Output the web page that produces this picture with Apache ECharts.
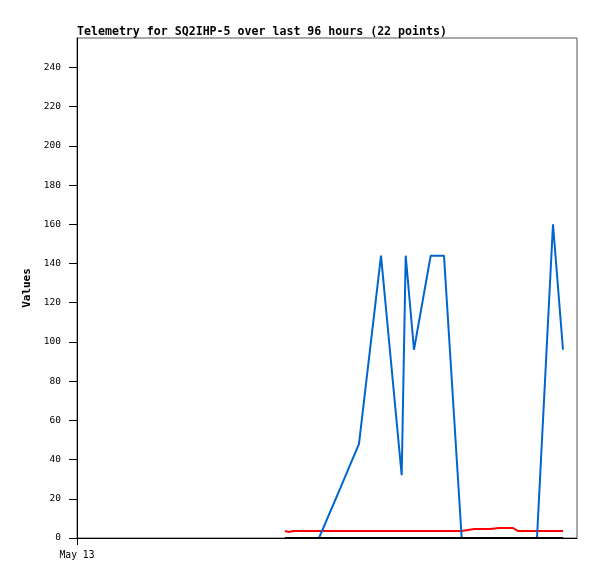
<!DOCTYPE html>
<html>
<head>
<meta charset="utf-8">
<script src="https://cdn.jsdelivr.net/npm/echarts@6/dist/echarts.min.js"></script>
<style>
html,body{margin:0;padding:0;background:#fff;}
#c{width:597px;height:579px;}
</style>
</head>
<body>
<div id="c"></div>
<script>
// hours since May 13 00:00
var hours = [39.94, 40.70, 41.47, 43.8, 46.46, 50.5, 54.14, 58.37, 62.34, 63.11, 64.70, 67.91, 70.46, 73.86, 76.28, 79.3, 81.02, 83.71, 84.61, 88.32, 91.39, 93.31];
var blueVals = [0, 0, 0, 0, 0, 25, 48, 144, 32, 144, 96, 144, 144, 0, 0, 0, 0, 0, 0, 0, 160, 96];
var redVals = [3.6, 3.1, 3.6, 3.6, 3.6, 3.6, 3.6, 3.6, 3.6, 3.6, 3.6, 3.6, 3.6, 3.6, 4.6, 4.6, 5.1, 5.1, 3.6, 3.6, 3.6, 3.6];
var blackVals = [0, 0, 0, 0, 0, 0, 0, 0, 0, 0, 0, 0, 0, 0, 0, 0, 0, 0, 0, 0, 0, 0];
var xLabelHours = [0];
var xLabelTexts = ['May 13'];
var title = 'Telemetry for SQ2IHP-5 over last 96 hours (22 points)';

function pairs(vals){ return hours.map(function(h,i){ return [h, vals[i]]; }); }

var chart = echarts.init(document.getElementById('c'), null, {renderer:'canvas'});
var mono = 'DejaVu Sans Mono';
chart.setOption({
  animation: false,
  backgroundColor: '#fff',
  title: {
    text: title, left: 72, top: 21,
    textStyle: {fontFamily: mono, fontSize: 11.6, fontWeight: 'bold', color: '#000'}
  },
  grid: {left: 77, right: 20, top: 38, bottom: 41, show: true, borderColor: '#555', borderWidth: 1, backgroundColor: 'transparent'},
  xAxis: {
    type: 'value', min: 0, max: 96,
    axisLine: {show: true, onZero: false, lineStyle: {color: '#000', width: 1}},
    axisTick: {show: true, length: 7, customValues: xLabelHours, lineStyle: {color: '#000'}},
    axisLabel: {
      customValues: xLabelHours, margin: 12,
      fontFamily: mono, fontSize: 9.7, color: '#000',
      formatter: function(v){ var i = xLabelHours.indexOf(v); return i >= 0 ? xLabelTexts[i] : ''; }
    },
    splitLine: {show: false}
  },
  yAxis: {
    type: 'value', min: 0, max: 255, interval: 20,
    name: 'Values', nameLocation: 'middle', nameGap: 40, nameRotate: 90,
    nameTextStyle: {fontFamily: mono, fontSize: 11, fontWeight: 'bold', color: '#000'},
    axisLine: {show: true, lineStyle: {color: '#000', width: 1}},
    axisTick: {show: true, length: 8, lineStyle: {color: '#000'}},
    axisLabel: {margin: 16, fontFamily: mono, fontSize: 9.5, color: '#000', showMaxLabel: false},
    splitLine: {show: false}
  },
  series: [
    {type: 'line', data: pairs(redVals), showSymbol: false, symbol: 'none', lineStyle: {color: '#ff0000', width: 2}, z: 2},
    {type: 'line', data: pairs(blueVals), showSymbol: false, symbol: 'none', lineStyle: {color: '#0066cc', width: 2}, z: 3},
    {type: 'line', data: pairs(blackVals), showSymbol: false, symbol: 'none', lineStyle: {color: '#000000', width: 2}, z: 4}
  ]
});
</script>
</body>
</html>
